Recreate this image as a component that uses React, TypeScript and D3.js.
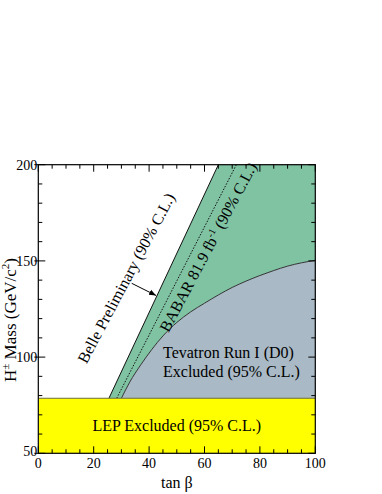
import React from 'react';
import * as d3 from 'd3';

// axis ranges and ticks
const xDomain = [0, 100];
const yDomain = [50, 200];
const xMajorTicks = [0, 20, 40, 60, 80, 100];
const yMajorTicks = [50, 100, 150, 200];

// LEP lower limit on the charged Higgs mass (GeV)
const lepLimit = 78.6;

// Belle preliminary exclusion line (tan beta, mass)
const belleTanB = [25.5, 65];
const belleMass = [78.6, 200];

// BABAR 81.9 fb-1 line (dotted)
const babarTanB = [28.3, 71.5];
const babarMass = [78.6, 200];

// Tevatron Run I (D0) exclusion boundary
const tevTanB = [30, 33, 37, 41, 45, 50, 55, 60, 65, 70, 75, 80, 85, 90, 95, 100];
const tevMass = [78.6, 87, 96, 104, 111, 118, 123.5, 128, 132.3, 136.2, 139.5, 142.4, 145, 147.3, 149, 150.3];

const W = 382;
const H = 494;
const left = 38.3, right = 315.3, top = 164.7, bottom = 453.3;

const serif = '"Liberation Serif", "DejaVu Serif", serif';

export default function App() {
  const x = d3.scaleLinear().domain(xDomain).range([left, right]);
  const y = d3.scaleLinear().domain(yDomain).range([bottom, top]);

  const tev = tevTanB.map((t, i) => [t, tevMass[i]] as [number, number]);

  const curve = d3.line<[number, number]>()
    .x(d => x(d[0]))
    .y(d => y(d[1]))
    .curve(d3.curveMonotoneX);

  // gray area: under the tevatron curve, above LEP
  const grayArea = d3.area<[number, number]>()
    .x(d => x(d[0]))
    .y0(y(lepLimit))
    .y1(d => y(d[1]))
    .curve(d3.curveMonotoneX)(tev);

  // green area: between belle line and tevatron curve
  const tevPath = curve([...tev].reverse() as [number, number][]) || '';
  const greenPath =
    `M${x(belleTanB[0])},${y(belleMass[0])}` +
    `L${x(belleTanB[1])},${y(belleMass[1])}` +
    `L${x(100)},${y(200)}` +
    tevPath.replace(/^M/, 'L') + 'Z';

  const xMinor = d3.range(0, 101, 5).filter(v => !xMajorTicks.includes(v));
  const yMinor = d3.range(50, 201, 10).filter(v => !yMajorTicks.includes(v));

  const angle = -62;

  // arrow tip on the Belle line
  const tipY = 295.5;
  const tipX = x(belleTanB[0]) + (y(belleMass[0]) - tipY) * (x(belleTanB[1]) - x(belleTanB[0])) / (y(belleMass[0]) - y(belleMass[1])) - 1;

  return (
    <svg width={W} height={H} style={{ position: 'absolute', left: 0, top: 0 }} fontFamily={serif}>
      <rect x={0} y={0} width={W} height={H} fill="#fff" />
      <defs>
        <marker id="arr" viewBox="0 0 10 10" refX="10" refY="5" markerWidth="7" markerHeight="7" orient="auto">
          <path d="M0,1L10,5L0,9Z" fill="#000" />
        </marker>
        <clipPath id="plot">
          <rect x={left} y={top} width={right - left} height={bottom - top} />
        </clipPath>
      </defs>

      <g clipPath="url(#plot)">
        <path d={greenPath} fill="#80c3a3" stroke="none" />
        <path d={grayArea || ''} fill="#a9b9c5" stroke="none" />
        <path d={curve(tev) || ''} fill="none" stroke="#222" strokeWidth={0.9} />
        <line x1={x(belleTanB[0])} y1={y(belleMass[0])} x2={x(belleTanB[1])} y2={y(belleMass[1])}
          stroke="#111" strokeWidth={1} />
        <line x1={x(babarTanB[0])} y1={y(babarMass[0])} x2={x(babarTanB[1])} y2={y(babarMass[1])}
          stroke="#111" strokeWidth={1} strokeDasharray="1.5,1.5" />
        <rect x={x(0)} y={y(lepLimit)} width={x(100) - x(0)} height={y(50) - y(lepLimit)} fill="#ffff00" />
        <line x1={x(0)} x2={x(100)} y1={y(lepLimit)} y2={y(lepLimit)} stroke="#6b6b3a" strokeWidth={1.2} />
      </g>

      {/* ticks, all pointing inward */}
      <g stroke="#000" strokeWidth={1}>
        {xMajorTicks.map(v => (
          <g key={'xm' + v}>
            <line x1={x(v)} x2={x(v)} y1={bottom} y2={bottom - 7} />
            <line x1={x(v)} x2={x(v)} y1={top} y2={top + 7} />
          </g>
        ))}
        {xMinor.map(v => (
          <g key={'xn' + v}>
            <line x1={x(v)} x2={x(v)} y1={bottom} y2={bottom - 4} />
            <line x1={x(v)} x2={x(v)} y1={top} y2={top + 4} />
          </g>
        ))}
        {yMajorTicks.map(v => (
          <g key={'ym' + v}>
            <line x1={left - 4} x2={left + 7} y1={y(v)} y2={y(v)} />
            <line x1={right} x2={right - 7} y1={y(v)} y2={y(v)} />
          </g>
        ))}
        {yMinor.map(v => (
          <g key={'yn' + v}>
            <line x1={left} x2={left + 4} y1={y(v)} y2={y(v)} />
            <line x1={right} x2={right - 4} y1={y(v)} y2={y(v)} />
          </g>
        ))}
      </g>
      <rect x={left} y={top} width={right - left} height={bottom - top} fill="none" stroke="#000" strokeWidth={1.2} />

      {/* tick labels */}
      <g fontSize={14} fill="#000">
        {xMajorTicks.map(v => (
          <text key={'xl' + v} x={x(v)} y={bottom + 15} textAnchor="middle">{v}</text>
        ))}
        {yMajorTicks.map(v => (
          <text key={'yl' + v} x={left - 1} y={y(v) + (v === 50 ? 3 : 5)} textAnchor="end">{v}</text>
        ))}
      </g>

      {/* axis titles */}
      <text x={(left + right) / 2} y={488} textAnchor="middle" fontSize={16}>tan β</text>
      <text transform={`translate(15.5,320) rotate(-90)`} textAnchor="middle" fontSize={17}>
        H<tspan dy={-7} fontSize={11}>±</tspan><tspan dy={7}> Mass (GeV/c</tspan>
        <tspan dy={-7} fontSize={11}>2</tspan><tspan dy={7}>)</tspan>
      </text>

      {/* region labels */}
      <text transform={`translate(126,278) rotate(${angle})`} textAnchor="middle" dy="0.35em" fontSize={16}>
        Belle Preliminary (90% C.L.)
      </text>
      <line x1={131.7} y1={283.3} x2={tipX} y2={tipY}
        stroke="#000" strokeWidth={1} markerEnd="url(#arr)" />
      <text transform={`translate(208,247) rotate(${angle})`} textAnchor="middle" dy="0.35em" fontSize={16}>
        BABAR 81.9 fb<tspan dy={-6} fontSize={10}>-1</tspan><tspan dy={6}> (90% C.L.)</tspan>
      </text>
      <text x={163} y={357.5} fontSize={16}>Tevatron Run I (D0)</text>
      <text x={163} y={377} fontSize={16}>Excluded (95% C.L.)</text>
      <text x={x(50)} y={431} textAnchor="middle" fontSize={16}>LEP Excluded (95% C.L.)</text>
    </svg>
  );
}
